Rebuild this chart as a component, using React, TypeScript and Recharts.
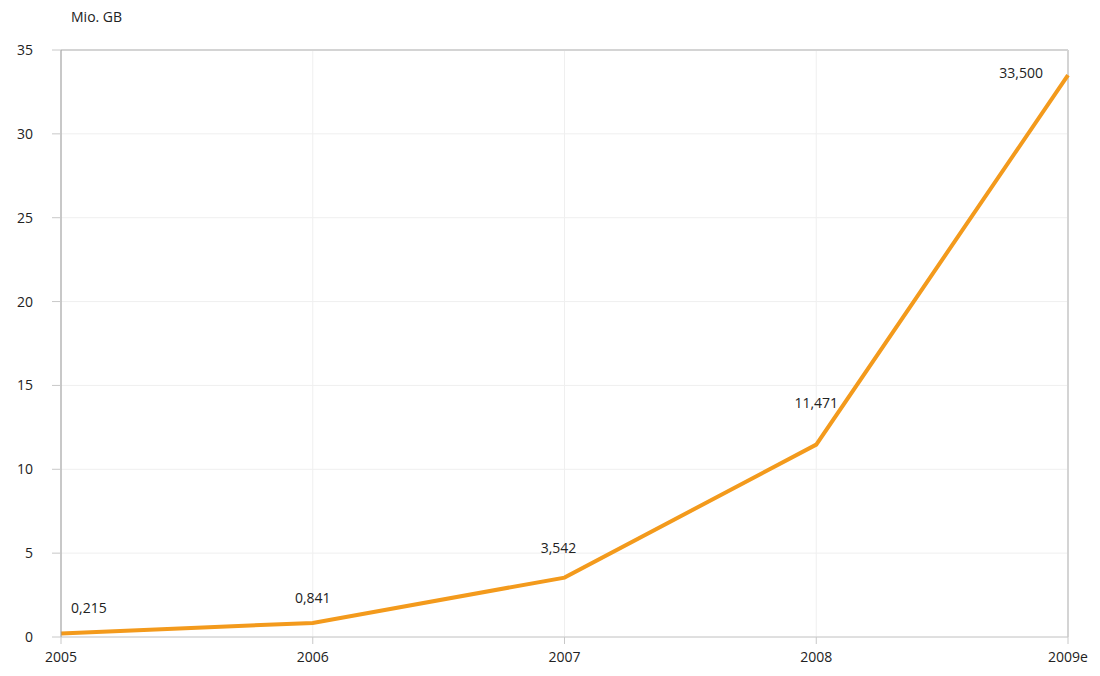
import React from 'react';
import { LineChart, Line, XAxis, YAxis, CartesianGrid, LabelList, ReferenceLine } from 'recharts';

const years = ['2005', '2006', '2007', '2008', '2009e'];
const volumes = [0.215, 0.841, 3.542, 11.471, 33.5];
const volumeLabels = ['0,215', '0,841', '3,542', '11,471', '33,500'];
const yTicks = [0, 5, 10, 15, 20, 25, 30, 35];

const data = years.map((year, i) => ({ year, value: volumes[i], label: volumeLabels[i] }));

const FONT = '"Open Sans", "Noto Sans", sans-serif';

// label placement per point: [dx, dy, anchor]
const labelPlacement: [number, number, 'start' | 'middle' | 'end'][] = [
  [10, -26, 'start'],
  [0, -25, 'middle'],
  [-6, -30, 'middle'],
  [0, -42, 'middle'],
  [-25, -3, 'end'],
];

const PointLabel = (props: any) => {
  const { x, y, index, value } = props;
  const [dx, dy, anchor] = labelPlacement[index] || [0, -20, 'middle'];
  return (
    <text x={x + dx} y={y + dy} textAnchor={anchor} dominantBaseline="central" fontSize={14} fill="#222" fontFamily={FONT}>
      {value}
    </text>
  );
};

const App = () => {
  return (
    <div style={{ position: 'absolute', left: 0, top: 0, width: 1100, height: 676, background: '#fff' }}>
      <div style={{ position: 'absolute', left: 71, top: 7, fontSize: 14, color: '#222', fontFamily: FONT }}>Mio. GB</div>
      <LineChart width={1100} height={676} data={data} margin={{ top: 50, right: 32, left: 0, bottom: 0 }}>
        <CartesianGrid stroke="#efefef" strokeWidth={1} />
        <XAxis
          dataKey="year"
          height={39}
          axisLine={{ stroke: '#c8c8c8' }}
          tickLine={{ stroke: '#c8c8c8' }}
          tickSize={7}
          tickMargin={8}
          tick={{ fontSize: 14, fill: '#222', fontFamily: FONT }}
          interval={0}
        />
        <YAxis
          width={61}
          domain={[0, 35]}
          ticks={yTicks}
          axisLine={{ stroke: '#999' }}
          tickLine={{ stroke: '#c8c8c8' }}
          tickSize={9}
          tickMargin={19}
          tick={{ fontSize: 14, fill: '#222', fontFamily: FONT }}
        />
        <ReferenceLine y={35} stroke="#d4d4d4" strokeWidth={2} />
        <ReferenceLine x="2009e" stroke="#d4d4d4" strokeWidth={2} />
        <Line
          type="linear"
          dataKey="value"
          stroke="#F39A1C"
          strokeWidth={4}
          dot={false}
          isAnimationActive={false}
        >
          <LabelList dataKey="label" content={<PointLabel />} />
        </Line>
      </LineChart>
    </div>
  );
};

export default App;
